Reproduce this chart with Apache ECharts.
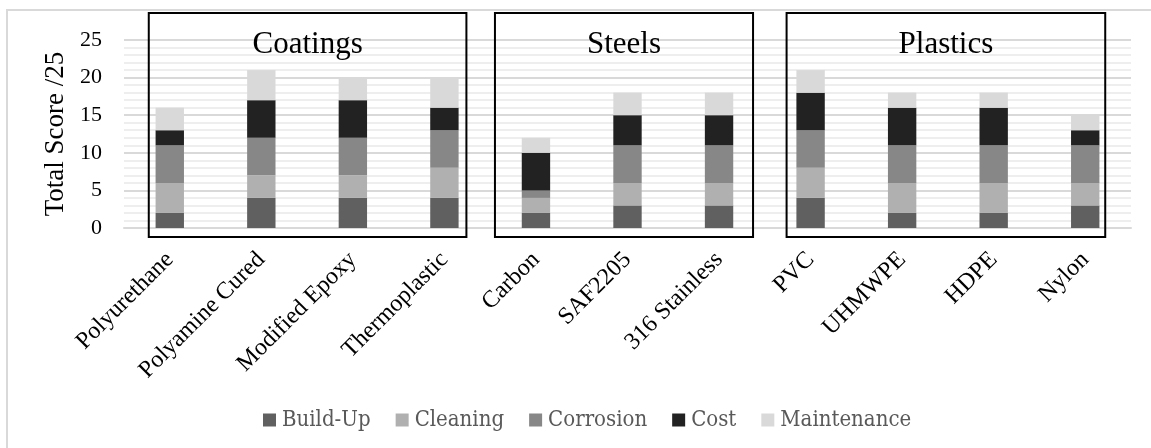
<!DOCTYPE html>
<html>
<head>
<meta charset="utf-8">
<script src="https://cdn.jsdelivr.net/npm/echarts@6/dist/echarts.min.js"></script>
<style>
  html, body { margin: 0; padding: 0; background: #ffffff; }
  #main { width: 1151px; height: 448px; }
</style>
</head>
<body>
<div id="main"></div>
<script>
// materials along the x axis
var categories = ['Polyurethane', 'Polyamine Cured', 'Modified Epoxy', 'Thermoplastic',
  'Carbon', 'SAF2205', '316 Stainless',
  'PVC', 'UHMWPE', 'HDPE', 'Nylon'];

// score for each criterion (stacked)
var buildUp     = [2, 4, 4, 4, 2, 3, 3, 4, 2, 2, 3];
var cleaning    = [4, 3, 3, 4, 2, 3, 3, 4, 4, 4, 3];
var corrosion   = [5, 5, 5, 5, 1, 5, 5, 5, 5, 5, 5];
var cost        = [2, 5, 5, 3, 5, 4, 4, 5, 5, 5, 2];
var maintenance = [3, 4, 3, 4, 2, 3, 3, 3, 2, 2, 2];

// groups drawn as boxes: [title, first index, last index]
var groups = [
  ['Coatings', 0, 3],
  ['Steels', 4, 6],
  ['Plastics', 7, 10]
];

var yTicks = [0, 5, 10, 15, 20, 25];

var serif = '"Liberation Serif", "Times New Roman", serif';

function bar(name, data, color) {
  return {
    name: name,
    type: 'bar',
    stack: 'total',
    barWidth: '31%',
    itemStyle: { color: color },
    data: data
  };
}

var myChart = echarts.init(document.getElementById('main'));

myChart.setOption({
  animation: false,
  grid: { left: 124, right: 20, top: 40, bottom: 220 },
  legend: {
    left: 258,
    top: 404,
    itemWidth: 13,
    itemHeight: 13,
    itemGap: 25,
    icon: 'rect',
    textStyle: {
      fontFamily: '"DejaVu Serif Condensed", "DejaVu Serif", serif',
      fontSize: 22,
      color: '#595959',
      padding: [0, 0, 0, 1]
    },
    data: ['Build-Up', 'Cleaning', 'Corrosion', 'Cost', 'Maintenance']
  },
  xAxis: {
    type: 'category',
    data: categories,
    axisLine: { lineStyle: { color: '#d9d9d9', width: 2 } },
    axisTick: { show: false },
    axisLabel: {
      rotate: 45,
      interval: 0,
      margin: 28,
      fontFamily: serif,
      fontSize: 24,
      color: '#000'
    }
  },
  yAxis: {
    type: 'value',
    min: yTicks[0],
    max: yTicks[yTicks.length - 1],
    interval: 5,
    name: 'Total Score /25',
    nameLocation: 'middle',
    nameGap: 52,
    nameTextStyle: { fontFamily: serif, fontSize: 27, color: '#000' },
    axisLine: { show: false },
    axisTick: { show: false },
    axisLabel: { margin: 22, fontFamily: serif, fontSize: 22, color: '#000' },
    splitLine: { lineStyle: { color: '#d9d9d9', width: 2 } },
    minorTick: { show: false, splitNumber: 5 },
    minorSplitLine: { show: true, lineStyle: { color: '#eeeeee', width: 2 } }
  },
  series: [
    bar('Build-Up', buildUp, '#606060'),
    bar('Cleaning', cleaning, '#b0b0b0'),
    bar('Corrosion', corrosion, '#878787'),
    bar('Cost', cost, '#222222'),
    bar('Maintenance', maintenance, '#d9d9d9')
  ]
});

// group boxes and titles, placed from the category axis
var pad = [[-21, 22], [-41, 34], [-24, 20]];
var elements = [{
  type: 'rect',
  shape: { x: 7, y: 10, width: 1300, height: 600 },
  style: { fill: 'none', stroke: '#d9d9d9', lineWidth: 2 },
  silent: true
}];
groups.forEach(function (g, i) {
  var x0 = myChart.convertToPixel({ xAxisIndex: 0 }, g[1]) + pad[i][0];
  var x1 = myChart.convertToPixel({ xAxisIndex: 0 }, g[2]) + pad[i][1];
  elements.push({
    type: 'rect',
    z: 100,
    shape: { x: x0, y: 13, width: x1 - x0, height: 224 },
    style: { fill: 'none', stroke: '#000', lineWidth: 2 },
    silent: true
  });
  elements.push({
    type: 'text',
    z: 100,
    x: (x0 + x1) / 2,
    y: 45,
    style: {
      text: g[0],
      fontFamily: serif,
      fontSize: 31,
      fill: '#000',
      align: 'center',
      verticalAlign: 'middle'
    }
  });
});
myChart.setOption({ graphic: elements });
</script>
</body>
</html>
